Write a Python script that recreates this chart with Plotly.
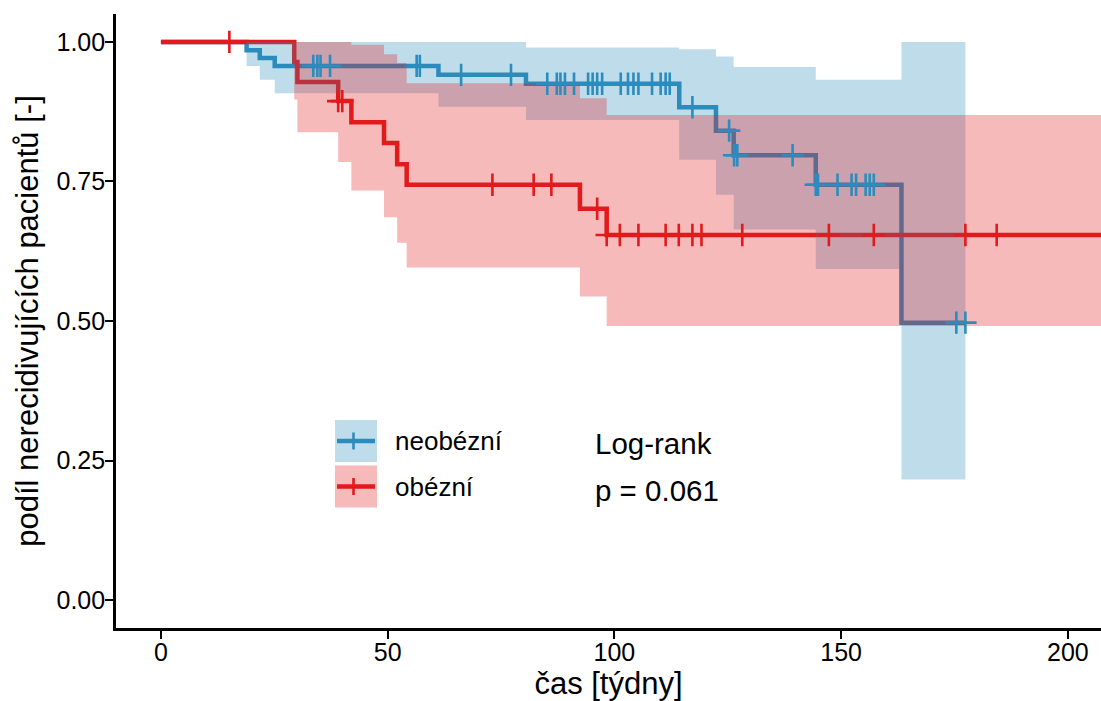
import plotly.graph_objects as go

# ---------------- data ----------------
# non-obese (neobézní) Kaplan-Meier step values
blue_time = [0, 18.9, 21.8, 25.1, 61.2, 80.5, 114.3, 122.4, 126.3, 144.4, 163.3]
blue_surv = [1.0, 0.985, 0.971, 0.957, 0.941, 0.925, 0.883, 0.841, 0.797, 0.744, 0.497]
blue_upper = [1.0, 1.0, 1.0, 1.0, 1.0, 0.990, 0.987, 0.974, 0.955, 0.932, 1.0]
blue_lower = [1.0, 0.957, 0.932, 0.908, 0.884, 0.860, 0.789, 0.726, 0.664, 0.593, 0.216]
blue_end = 177.4
blue_censor = [33.6, 34.5, 35.2, 37.3, 56.4, 57.1, 66.2, 77.2,
               85.2, 87.3, 88.1, 89.1, 91.1, 94.2, 95.2, 96.2, 97.3,
               101.4, 103.0, 104.2, 105.3, 108.3, 110.2, 111.3, 112.2,
               117.2, 125.3, 126.4, 127.1, 139.3,
               144.4, 144.9, 149.2, 152.3, 153.3, 155.4, 156.3, 157.2,
               175.4, 177.4]

# obese (obézní)
red_time = [0, 29.4, 30.1, 39.1, 42.0, 49.2, 52.1, 54.2, 92.4, 98.3]
red_surv = [1.0, 0.964, 0.928, 0.894, 0.856, 0.819, 0.781, 0.744, 0.701, 0.654]
red_upper = [1.0, 1.0, 1.0, 1.0, 0.995, 0.978, 0.962, 0.926, 0.899, 0.869]
red_lower = [1.0, 0.897, 0.838, 0.785, 0.734, 0.686, 0.640, 0.596, 0.544, 0.491]
red_end = 212.0
red_censor = [15.1, 39.1, 40.0, 73.1, 82.2, 86.1, 96.2, 98.3, 101.2, 105.3,
              111.3, 114.2, 117.2, 119.2, 128.2, 147.3, 157.2, 177.4, 184.3]

group_names = ["neobézní", "obézní"]
x_ticks = [0, 50, 100, 150, 200]
y_ticks = [0.0, 0.25, 0.5, 0.75, 1.0]
x_title = "čas [týdny]"
y_title = "podíl nerecidivujících pacientů [-]"
pval_lines = ["Log-rank", "p = 0.061"]

BLUE = "#2b8cbe"
RED = "#e31a1c"
BLUE_F = "rgba(43,140,190,0.3)"
RED_F = "rgba(227,26,28,0.3)"
FONT = "Liberation Sans, Arial, sans-serif"

W, H = 1101, 701
ML, MR, MT, MB = 116, 0, 14, 73
XR = [-9.9, 207.3]
YR = [-0.05, 1.05]


def step_xy(times, vals, end):
    xs, ys = [], []
    for i, (t, v) in enumerate(zip(times, vals)):
        nxt = times[i + 1] if i + 1 < len(times) else end
        xs += [t, nxt]
        ys += [v, v]
    return xs, ys


def surv_at(times, vals, t):
    v = vals[0]
    for tt, vv in zip(times, vals):
        if tt <= t:
            v = vv
    return v


fig = go.Figure()

# lines first (ribbons drawn over them)
for times, surv, end, col in [(blue_time, blue_surv, blue_end, BLUE),
                              (red_time, red_surv, red_end, RED)]:
    xs, ys = step_xy(times, surv, end)
    fig.add_trace(go.Scatter(x=xs, y=ys, mode="lines",
                             line=dict(color=col, width=4.5),
                             showlegend=False, hoverinfo="skip"))

# ribbons
for times, up, lo, end, fc in [(blue_time, blue_upper, blue_lower, blue_end, BLUE_F),
                               (red_time, red_upper, red_lower, red_end, RED_F)]:
    ux, uy = step_xy(times, up, end)
    lx, ly = step_xy(times, lo, end)
    px = ux + lx[::-1]
    py = uy + ly[::-1]
    fig.add_trace(go.Scatter(x=px, y=py, mode="lines", fill="toself",
                             fillcolor=fc, line=dict(width=0),
                             showlegend=False, hoverinfo="skip"))

# censor marks
for times, surv, cens, col in [(blue_time, blue_surv, blue_censor, BLUE),
                               (red_time, red_surv, red_censor, RED)]:
    fig.add_trace(go.Scatter(x=cens, y=[surv_at(times, surv, c) for c in cens],
                             mode="markers",
                             marker=dict(symbol="cross-thin", size=16,
                                         line=dict(color=col, width=2.6)),
                             showlegend=False, hoverinfo="skip"))


# ------------- manual legend (layout decoration) -------------
pw = W - ML - MR
ph = H - MT - MB


def px2paper(x, y):
    return (x - ML) / pw, 1 - (y - MT) / ph


shapes = []
annotations = []
for i, (name, col, fc) in enumerate([(group_names[0], BLUE, BLUE_F),
                                     (group_names[1], RED, RED_F)]):
    top = 420 + i * 45.5
    x0, y0 = px2paper(335, top)
    x1, y1 = px2paper(377, top + 42)
    shapes.append(dict(type="rect", xref="paper", yref="paper",
                       x0=x0, x1=x1, y0=y1, y1=y0,
                       fillcolor=fc, line=dict(width=0), layer="above"))
    cy = top + 21
    a0, b0 = px2paper(337, cy)
    a1, _ = px2paper(375, cy)
    shapes.append(dict(type="line", xref="paper", yref="paper",
                       x0=a0, x1=a1, y0=b0, y1=b0,
                       line=dict(color=col, width=4.5), layer="above"))
    c0, d0 = px2paper(353.5, cy - 8.5)
    _, d1 = px2paper(353.5, cy + 8.5)
    shapes.append(dict(type="line", xref="paper", yref="paper",
                       x0=c0, x1=c0, y0=d0, y1=d1,
                       line=dict(color=col, width=2.6), layer="above"))
    tx, ty = px2paper(393, cy)
    annotations.append(dict(xref="paper", yref="paper", x=tx, y=ty,
                            text=name, showarrow=False, xanchor="left",
                            yanchor="middle",
                            font=dict(family=FONT, size=26, color="black")))

for j, txt in enumerate(pval_lines):
    tx, ty = px2paper(593, 443 + j * 47)
    annotations.append(dict(xref="paper", yref="paper", x=tx, y=ty,
                            text=txt, showarrow=False, xanchor="left",
                            yanchor="middle",
                            font=dict(family=FONT, size=29.5, color="black")))

fig.update_layout(
    width=W, height=H,
    margin=dict(l=ML, r=MR, t=MT, b=MB, pad=0),
    plot_bgcolor="white", paper_bgcolor="white",
    font=dict(family=FONT, color="black"),
    shapes=shapes, annotations=annotations,
    showlegend=False,
)
fig.update_xaxes(range=XR, tickvals=x_ticks, ticks="outside", ticklen=8,
                 tickwidth=2, tickcolor="black", showline=True, linewidth=2.6,
                 linecolor="black", showgrid=False, zeroline=False,
                 tickfont=dict(family=FONT, size=25, color="black"),
                 ticklabelstandoff=-8,
                 title=dict(text=x_title, font=dict(family=FONT, size=31),
                            standoff=19),
                 automargin=False)
fig.update_yaxes(range=YR, tickvals=y_ticks, tickformat=".2f", ticks="outside",
                 ticklen=8, tickwidth=2, tickcolor="black", showline=True,
                 linewidth=2.6, linecolor="black", showgrid=False,
                 zeroline=False,
                 tickfont=dict(family=FONT, size=25, color="black"),
                 ticklabelstandoff=-5,
                 title=dict(text=y_title, font=dict(family=FONT, size=31),
                            standoff=9),
                 automargin=False)

fig.write_html(
    "out.html",
    config={"displayModeBar": False},
    post_script="document.body.style.margin='0';document.body.style.padding='0';"
                "document.body.style.overflow='hidden';",
)
